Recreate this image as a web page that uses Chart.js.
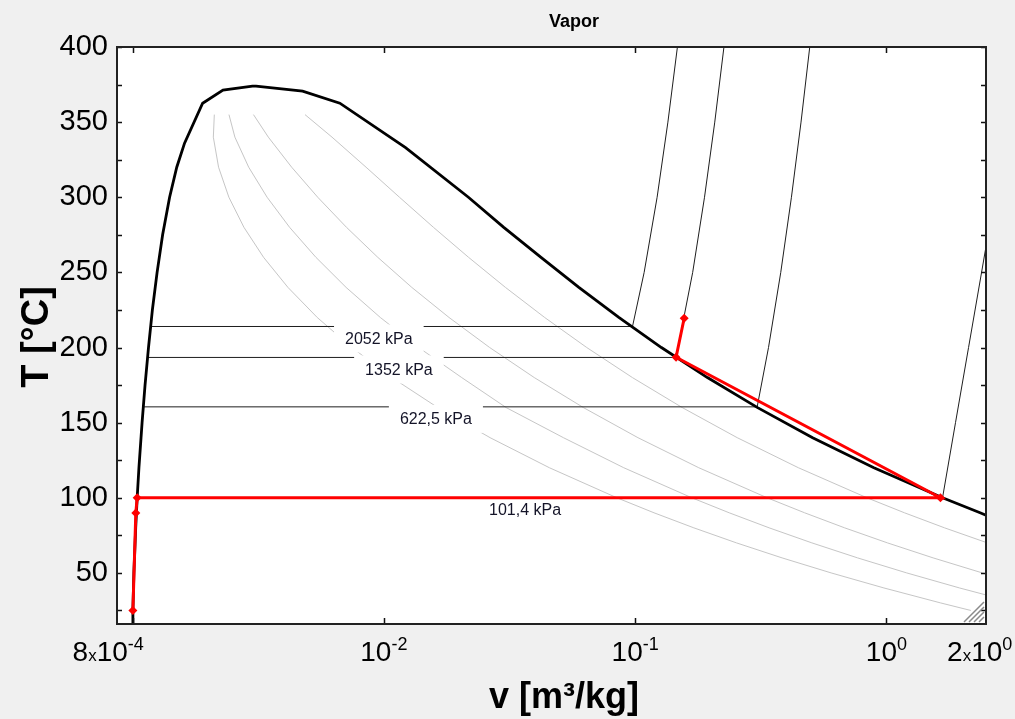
<!DOCTYPE html>
<html>
<head>
<meta charset="utf-8">
<script src="https://cdn.jsdelivr.net/npm/chart.js@4.4.1/dist/chart.umd.min.js"></script>
<style>
  html, body { margin: 0; padding: 0; background: #f0f0f0; }
  canvas { display: block; }
</style>
</head>
<body>
<canvas id="c" width="1015" height="719"></canvas>
<script>
// saturation dome, liquid side up to the critical point then down the vapour side
var domeV = [0.001001, 0.001003, 0.001012, 0.001029, 0.001043, 0.001060, 0.001091, 0.001121, 0.001157, 0.001199,
             0.001252, 0.001317, 0.001404, 0.001499, 0.00161, 0.0019, 0.00229, 0.00300, 0.00310, 0.00475,
             0.00668, 0.0122, 0.0217, 0.0300, 0.0422, 0.0597, 0.0861, 0.1272, 0.1939, 0.3071,
             0.5085, 0.8913, 1.672, 2.359, 2.60];
var domeT = [16, 25, 50, 80, 100, 120, 150, 175, 200, 225,
             250, 275, 300, 320, 336, 362.6, 371.3, 374, 374, 370.6,
             362.6, 333, 300, 280, 260, 240, 220, 200, 180, 160,
             140, 120, 100, 90, 87];

// grey quality lines
var q05V = [2.168, 1.645, 0.977, 0.6025, 0.3843, 0.2530, 0.1712, 0.1189, 0.0846, 0.04557, 0.02647, 0.01640, 0.01077,
            0.007459, 0.00543, 0.004153, 0.003322, 0.002774, 0.002417, 0.002199, 0.002096, 0.002115];
var q05T = [25, 30, 40, 50, 60, 70, 80, 90, 100, 120, 140, 160, 180, 200, 220, 240, 260, 280, 300, 320, 340, 355];
var q10V = [3.289, 1.953, 1.204, 0.7676, 0.5049, 0.3414, 0.2368, 0.1681, 0.09008, 0.05182, 0.03070, 0.02041,
            0.01376, 0.00968, 0.007076, 0.005368, 0.004216, 0.003431, 0.002898, 0.002554, 0.002419];
var q10T = [30, 40, 50, 60, 70, 80, 90, 100, 120, 140, 160, 180, 200, 220, 240, 260, 280, 300, 320, 340, 355];
var q20V = [3.905, 2.407, 1.534, 1.0088, 0.6818, 0.4726, 0.3352, 0.1791, 0.1026, 0.06230, 0.03968, 0.02637,
            0.01817, 0.01292, 0.009461, 0.0071, 0.005457, 0.004297, 0.00347, 0.003028];
var q20T = [40, 50, 60, 70, 80, 90, 100, 120, 140, 160, 180, 200, 220, 240, 260, 280, 300, 320, 340, 355];
var q50V = [3.834, 2.5205, 1.703, 1.180, 0.8365, 0.4462, 0.2548, 0.1541, 0.09752, 0.06418, 0.04364, 0.03047,
            0.02174, 0.01575, 0.01154, 0.008495, 0.006219, 0.004855];
var q50T = [60, 70, 80, 90, 100, 120, 140, 160, 180, 200, 220, 240, 260, 280, 300, 320, 340, 355];

// isobars
var p2052V = [0.001181, 0.0976, 0.1086, 0.1223, 0.1350, 0.1473];
var p2052T = [214, 214, 250, 300, 350, 400];
var p1352V = [0.001146, 0.1460, 0.1481, 0.1694, 0.1888, 0.2074, 0.2256];
var p1352T = [193.4, 193.4, 200, 250, 300, 350, 400];
var p622V = [0.001102, 0.3059, 0.3394, 0.3797, 0.4187, 0.4572, 0.4952];
var p622T = [160.5, 160.5, 200, 250, 300, 350, 400];
var p101V = [0.001043, 1.672, 1.883, 2.122, 2.391, 2.69];
var p101T = [100, 100, 150, 200, 250, 300];

// isobar labels
var isoLabels = ['2052 kPa', '1352 kPa', '622,5 kPa', '101,4 kPa'];
var isoLabelV = [0.00955, 0.01148, 0.01611, 0.03646];
var isoLabelT = [214, 193.4, 160.5, 100];

// cycle states (red)
var cycleV = [0.001003, 0.00103, 0.001043, 1.64, 0.1455, 0.1567];
var cycleT = [25, 89.8, 100, 100, 193.5, 219.5];

// axes
var xMin = 0.000867, xMax = 2.49;
var yMin = 16, yMax = 400;
var xTicks = [0.001, 0.01, 0.1, 1];
var xTickText = [['8', 'x', '10', '-4'], ['', '', '10', '-2'], ['', '', '10', '-1'], ['', '', '10', '0'], ['2', 'x', '10', '0']];
var xTickAt = [0.0008, 0.01, 0.1, 1, 2.35];
var yTicks = [25, 50, 75, 100, 125, 150, 175, 200, 225, 250, 275, 300, 325, 350, 375, 400];

function pts(vs, ts) {
  return vs.map(function (v, i) { return {x: v, y: ts[i]}; });
}

var FONT = "'Liberation Sans', Arial, sans-serif";

function drawPow(ctx, cx, base, parts) {
  var fonts = ['28px ' + FONT, '17px ' + FONT, '28px ' + FONT, '18px ' + FONT];
  var rise = [0, 0, 0, 11];
  var w = [], total = 0;
  for (var i = 0; i < 4; i++) {
    ctx.font = fonts[i];
    w[i] = parts[i] ? ctx.measureText(parts[i]).width : 0;
    total += w[i];
  }
  var x = cx - total / 2;
  ctx.textAlign = 'left';
  ctx.textBaseline = 'alphabetic';
  for (var j = 0; j < 4; j++) {
    if (!parts[j]) continue;
    ctx.font = fonts[j];
    ctx.fillText(parts[j], x, base - rise[j]);
    x += w[j];
  }
}

var overlay = {
  id: 'overlay',
  beforeDraw: function (chart) {
    var ctx = chart.ctx, a = chart.chartArea;
    ctx.save();
    ctx.fillStyle = '#f0f0f0';
    ctx.fillRect(0, 0, chart.width, chart.height);
    ctx.fillStyle = '#ffffff';
    ctx.fillRect(a.left, a.top, a.right - a.left, a.bottom - a.top);
    ctx.restore();
  },
  beforeDatasetDraw: function (chart, args) {
    if (args.index !== 0) return;
    var ctx = chart.ctx, xs = chart.scales.x, ys = chart.scales.y;
    ctx.save();
    ctx.font = '16px ' + FONT;
    ctx.textAlign = 'center';
    ctx.textBaseline = 'middle';
    for (var i = 0; i < isoLabels.length; i++) {
      var cx = xs.getPixelForValue(isoLabelV[i]);
      var cy = ys.getPixelForValue(isoLabelT[i]) + 13;
      var w = ctx.measureText(isoLabels[i]).width + 22;
      ctx.fillStyle = '#ffffff';
      ctx.fillRect(cx - w / 2, cy - 15, w, 28);
      ctx.fillStyle = '#141428';
      ctx.fillText(isoLabels[i], cx, cy);
    }
    ctx.restore();
  },
  afterDraw: function (chart) {
    var ctx = chart.ctx, a = chart.chartArea, xs = chart.scales.x, ys = chart.scales.y;
    ctx.save();
    // tick marks, pointing inwards on all four sides
    ctx.strokeStyle = '#111';
    ctx.lineWidth = 1.5;
    ctx.beginPath();
    xTicks.forEach(function (v) {
      var px = Math.round(xs.getPixelForValue(v)) + 0.5;
      ctx.moveTo(px, a.bottom); ctx.lineTo(px, a.bottom - 6);
      ctx.moveTo(px, a.top); ctx.lineTo(px, a.top + 6);
    });
    yTicks.forEach(function (v) {
      var py = Math.round(ys.getPixelForValue(v)) + 0.5;
      ctx.moveTo(a.left, py); ctx.lineTo(a.left + 5, py);
      ctx.moveTo(a.right, py); ctx.lineTo(a.right - 5, py);
    });
    ctx.stroke();
    // frame
    ctx.lineWidth = 2;
    ctx.strokeStyle = '#222';
    ctx.strokeRect(a.left, a.top, a.right - a.left, a.bottom - a.top);
    // size grip
    ctx.strokeStyle = '#8a8a8a';
    ctx.lineWidth = 1.5;
    ctx.beginPath();
    [5, 10, 15, 20].forEach(function (d) {
      ctx.moveTo(a.right - 2 - d, a.bottom - 2);
      ctx.lineTo(a.right - 2, a.bottom - 2 - d);
    });
    ctx.stroke();
    // x tick labels
    ctx.fillStyle = '#000';
    for (var i = 0; i < xTickAt.length; i++) {
      drawPow(ctx, xs.getPixelForValue(xTickAt[i]), 661, xTickText[i]);
    }
    // titles
    ctx.textAlign = 'center';
    ctx.textBaseline = 'alphabetic';
    ctx.font = 'bold 18px ' + FONT;
    ctx.fillText('Vapor', 574, 27);
    ctx.font = 'bold 36px ' + FONT;
    ctx.fillText('v [m\u00b3/kg]', 564, 708);
    ctx.translate(48, 337);
    ctx.rotate(-Math.PI / 2);
    ctx.font = 'bold 38px ' + FONT;
    ctx.fillText('T [\u00b0C]', 0, 0);
    ctx.restore();
  }
};

function thin(label, vs, ts, color) {
  return {label: label, data: pts(vs, ts), showLine: true, borderColor: color, borderWidth: 1,
          pointRadius: 0, fill: false, tension: 0};
}

var datasets = [
  {label: 'cycle', data: pts(cycleV, cycleT), showLine: true, borderColor: '#ff0000', borderWidth: 3,
   pointStyle: 'rectRot', pointRadius: 4.5, pointBackgroundColor: '#ff0000', pointBorderColor: '#ff0000',
   pointBorderWidth: 0, tension: 0},
  {label: 'dome', data: pts(domeV, domeT), showLine: true, borderColor: '#000', borderWidth: 2.8,
   pointRadius: 0, tension: 0},
  thin('2052 kPa', p2052V, p2052T, '#1e1e1e'),
  thin('1352 kPa', p1352V, p1352T, '#1e1e1e'),
  thin('622,5 kPa', p622V, p622T, '#1e1e1e'),
  thin('101,4 kPa', p101V, p101T, '#1e1e1e'),
  thin('x=0.05', q05V, q05T, '#c6c6c6'),
  thin('x=0.1', q10V, q10T, '#c6c6c6'),
  thin('x=0.2', q20V, q20T, '#c6c6c6'),
  thin('x=0.5', q50V, q50T, '#c6c6c6')
];

new Chart(document.getElementById('c'), {
  type: 'scatter',
  data: {datasets: datasets},
  plugins: [overlay],
  options: {
    responsive: false,
    animation: false,
    devicePixelRatio: 1,
    layout: {padding: {left: 0, right: 29, top: 47, bottom: 0}},
    plugins: {legend: {display: false}, tooltip: {enabled: false}},
    scales: {
      x: {
        type: 'logarithmic', min: xMin, max: xMax,
        grid: {display: false, drawTicks: false, tickLength: 0}, border: {display: false},
        ticks: {display: false},
        afterFit: function (s) { s.height = 95; }
      },
      y: {
        type: 'linear', min: yMin, max: yMax,
        grid: {display: false, drawTicks: false, tickLength: 0}, border: {display: false},
        afterBuildTicks: function (s) { s.ticks = yTicks.map(function (v) { return {value: v}; }); },
        ticks: {
          color: '#000', padding: 9,
          font: {family: FONT, size: 29},
          callback: function (v) { return v % 50 === 0 ? v : ''; }
        },
        afterFit: function (s) { s.width = 117; }
      }
    }
  }
});
</script>
</body>
</html>
